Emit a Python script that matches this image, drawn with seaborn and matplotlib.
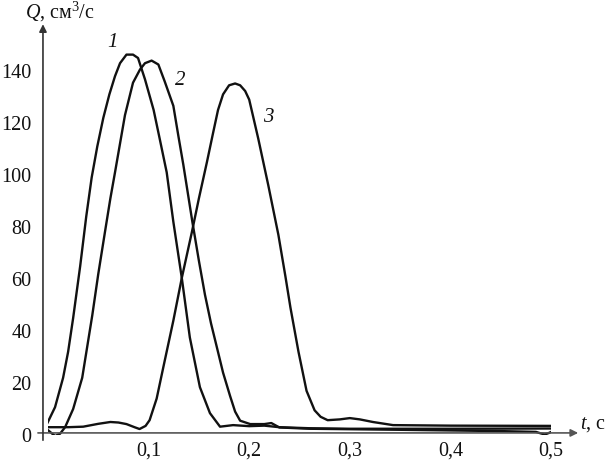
import numpy as np
import pandas as pd
import matplotlib
matplotlib.use('Agg')
import matplotlib.pyplot as plt
import seaborn as sns

# ---------------- данные ----------------
t1 = [-0.003, 0.007, 0.015, 0.020, 0.025, 0.032, 0.038, 0.0434, 0.049, 0.055, 0.061, 0.0666,
      0.0716, 0.078, 0.0845, 0.0895, 0.0964, 0.105, 0.111, 0.118, 0.1246, 0.133, 0.141, 0.151,
      0.161, 0.171, 0.184, 0.200, 0.215, 0.230, 0.260, 0.300, 0.400, 0.500]
q1 = [2.7, 10.7, 22, 32, 45, 65, 84, 99, 111, 122, 131, 138,
      143, 146.3, 146.3, 145, 136.8, 125, 114, 101, 82, 60.4, 37.5, 18.4,
      8.4, 3.2, 3.8, 3.4, 3.6, 3.0, 2.6, 2.4, 2.4, 2.5]

t2 = [-0.002, 0.007, 0.012, 0.017, 0.025, 0.034, 0.044, 0.050, 0.057, 0.062, 0.0666, 0.0765,
      0.0845, 0.0915, 0.0964, 0.103, 0.1097, 0.116, 0.1246, 0.1296, 0.1345, 0.1435, 0.150, 0.156,
      0.162, 0.1677, 0.174, 0.181, 0.186, 0.191, 0.201, 0.215, 0.222, 0.230, 0.260, 0.350,
      0.450, 0.485, 0.490, 0.494, 0.498, 0.502]
q2 = [2.5, -0.4, 0.5, 3, 10, 22, 46, 62, 79, 91, 101, 123,
      135.5, 140.6, 143, 144, 142.5, 136, 126.6, 115, 104, 82, 67, 54,
      43, 34, 24, 15, 9, 5.5, 4.2, 4.2, 4.6, 2.9, 2.4, 2.0,
      1.5, 1.2, 0.6, 0.2, 0.8, 1.5]

t3 = [-0.003, 0.020, 0.035, 0.050, 0.062, 0.070, 0.078, 0.086, 0.091, 0.097, 0.101, 0.108,
      0.1146, 0.1246, 0.133, 0.143, 0.150, 0.158, 0.164, 0.169, 0.174, 0.180, 0.186, 0.191,
      0.196, 0.200, 0.209, 0.219, 0.229, 0.236, 0.241, 0.249, 0.257, 0.265, 0.271, 0.278,
      0.290, 0.300, 0.310, 0.323, 0.343, 0.400, 0.503]
q3 = [3, 3, 3.2, 4.3, 5, 4.8, 4.2, 3, 2.3, 3.5, 5.7, 14,
      26, 44, 60.4, 78, 91, 105, 116, 125, 131, 134.5, 135.2, 134.5,
      132.3, 129, 114, 96, 77, 61, 49, 32, 17, 9.5, 7, 5.7,
      6.0, 6.5, 6, 5, 3.8, 3.6, 3.5]

x_ticks = [0.1, 0.2, 0.3, 0.4, 0.5]
x_labels = ['0,1', '0,2', '0,3', '0,4', '0,5']
y_ticks = [0, 20, 40, 60, 80, 100, 120, 140]

curve_names = ['1', '2', '3']
label_pos = [(0.064, 151), (0.131, 136.5), (0.219, 122)]

# ---------------- оформление ----------------
sns.set_style('white')
plt.rcParams['font.family'] = ['Liberation Serif', 'DejaVu Serif']
plt.rcParams['mathtext.fontset'] = 'custom'
plt.rcParams['mathtext.rm'] = 'Liberation Serif'
plt.rcParams['mathtext.it'] = 'Liberation Serif:italic'

W, H = 608, 462
fig = plt.figure(figsize=(W / 100, H / 100), dpi=100)
# ось: t=0 -> x=48px, 0.5 -> 551px; Q=0 -> y=435px, 160 -> 19px
ax = fig.add_axes([48 / W, (H - 435) / H, 503 / W, 416 / H])
ax.patch.set_alpha(0)

df = pd.concat([
    pd.DataFrame({'t': t1, 'Q': q1, 'curve': '1'}),
    pd.DataFrame({'t': t2, 'Q': q2, 'curve': '2'}),
    pd.DataFrame({'t': t3, 'Q': q3, 'curve': '3'}),
])
sns.lineplot(data=df, x='t', y='Q', hue='curve', palette=['#111111'] * 3,
             sort=False, estimator=None, legend=False, linewidth=1.7, ax=ax)

ax.set_xlim(0, 0.5)
ax.set_ylim(0, 160)
for s in ax.spines.values():
    s.set_visible(False)
ax.set_xlabel('')
ax.set_ylabel('')
ax.set_xticks(x_ticks)
ax.set_xticklabels(x_labels)
ax.set_yticks(y_ticks)
ax.tick_params(axis='both', length=0, labelsize=14.5, colors='#111111')
ax.tick_params(axis='x', pad=5)
ax.tick_params(axis='y', pad=12)

# оси со стрелками
ax.annotate('', xy=(0.527, 0.8), xytext=(-0.010, 0.8),
            arrowprops=dict(arrowstyle='-|>', color='#555555', lw=1.2, mutation_scale=11,
                            shrinkA=0, shrinkB=0), annotation_clip=False)
ax.annotate('', xy=(-0.005, 158), xytext=(-0.005, -2),
            arrowprops=dict(arrowstyle='-|>', color='#333333', lw=1.2, mutation_scale=11,
                            shrinkA=0, shrinkB=0), annotation_clip=False)

# номера кривых
for name, (tx, qy) in zip(curve_names, label_pos):
    ax.text(tx, qy, name, fontsize=15, style='italic', ha='center', va='center',
            color='#111111')

# подписи осей
fig.text(25 / W, 1 - 12 / H, r'$Q$, см$^3$/с', fontsize=14.5, ha='left', va='center',
         color='#111111')
fig.text(580 / W, 1 - 424 / H, r'$t$, с', fontsize=14.5, ha='left', va='center',
         color='#111111')

fig.savefig('out.png', dpi=100)
